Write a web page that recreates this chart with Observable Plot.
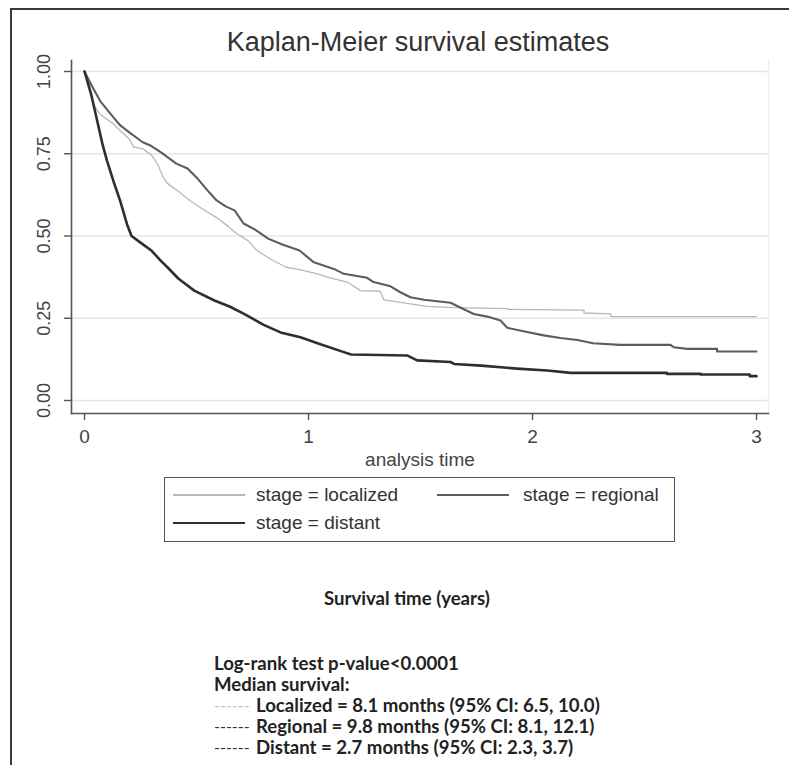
<!DOCTYPE html>
<html>
<head>
<meta charset="utf-8">
<script src="https://cdn.jsdelivr.net/npm/d3@7"></script>
<script src="https://cdn.jsdelivr.net/npm/@observablehq/plot@0.6"></script>
<style>
  html, body { margin: 0; padding: 0; background: #fff; }
  #page { position: relative; width: 789px; height: 765px; overflow: hidden; background: #fff; }
  .abs { position: absolute; white-space: nowrap; }
  .sans { font-family: "Liberation Sans", Arial, sans-serif; color: #333; }
  .note { font-family: Lato, "Open Sans", sans-serif; font-weight: bold; font-size: 18.6px; color: #222; line-height: 18px; }
  #chart { position: absolute; left: 0; top: 50px; }
</style>
</head>
<body>
<div id="page"></div>
<script>
// ---- data ----
const stages = ["localized", "regional", "distant"];

const localizedT = [0, 0.02, 0.04, 0.07, 0.10, 0.13, 0.16, 0.20, 0.22, 0.26, 0.30, 0.325, 0.35, 0.37, 0.42, 0.47, 0.52, 0.59, 0.64, 0.68, 0.73, 0.77, 0.83, 0.90, 0.96, 1.04, 1.083, 1.173, 1.232, 1.32, 1.336, 1.455, 1.53, 1.65, 1.887, 1.887, 2.23, 2.23, 2.35, 2.35, 3.0];
const localizedS = [1.0, 0.96, 0.90, 0.87, 0.855, 0.84, 0.82, 0.795, 0.77, 0.765, 0.745, 0.72, 0.68, 0.66, 0.635, 0.608, 0.585, 0.556, 0.53, 0.507, 0.486, 0.456, 0.43, 0.405, 0.398, 0.385, 0.375, 0.36, 0.334, 0.332, 0.306, 0.294, 0.286, 0.282, 0.279, 0.277, 0.275, 0.266, 0.263, 0.255, 0.255];

const regionalT = [0, 0.03, 0.07, 0.10, 0.13, 0.16, 0.20, 0.26, 0.295, 0.34, 0.41, 0.46, 0.50, 0.55, 0.59, 0.63, 0.67, 0.71, 0.76, 0.82, 0.88, 0.96, 1.024, 1.113, 1.158, 1.262, 1.29, 1.366, 1.41, 1.455, 1.515, 1.634, 1.68, 1.738, 1.798, 1.857, 1.887, 1.976, 2.05, 2.125, 2.2, 2.27, 2.39, 2.616, 2.63, 2.69, 2.824, 2.824, 3.0];
const regionalS = [1.0, 0.96, 0.91, 0.885, 0.86, 0.836, 0.815, 0.785, 0.775, 0.755, 0.72, 0.705, 0.678, 0.638, 0.608, 0.59, 0.578, 0.538, 0.52, 0.492, 0.475, 0.456, 0.42, 0.40, 0.385, 0.373, 0.36, 0.347, 0.329, 0.314, 0.306, 0.297, 0.282, 0.263, 0.255, 0.243, 0.221, 0.208, 0.198, 0.19, 0.184, 0.174, 0.169, 0.169, 0.162, 0.157, 0.157, 0.149, 0.149];

const distantT = [0, 0.03, 0.05, 0.08, 0.10, 0.13, 0.16, 0.19, 0.21, 0.25, 0.30, 0.34, 0.37, 0.42, 0.49, 0.58, 0.65, 0.71, 0.80, 0.875, 0.964, 1.05, 1.158, 1.19, 1.44, 1.485, 1.634, 1.65, 1.77, 1.93, 2.066, 2.17, 2.60, 2.60, 2.75, 2.75, 2.97, 2.97, 3.0];
const distantS = [1.0, 0.93, 0.87, 0.78, 0.73, 0.665, 0.605, 0.535, 0.50, 0.48, 0.455, 0.425, 0.405, 0.37, 0.334, 0.304, 0.285, 0.264, 0.23, 0.207, 0.192, 0.172, 0.147, 0.140, 0.137, 0.122, 0.117, 0.111, 0.106, 0.097, 0.091, 0.084, 0.084, 0.081, 0.081, 0.079, 0.079, 0.074, 0.074];

const yTicks = [0, 0.25, 0.5, 0.75, 1];
const xTicks = [0, 1, 2, 3];
const titleText = "Kaplan-Meier survival estimates";
const xLabel = "analysis time";
const legendLabels = ["stage = localized", "stage = regional", "stage = distant"];
const noteTitle = "Survival time (years)";
const logRank = "Log-rank test p-value<0.0001";
const medianHead = "Median survival:";
const medianLines = [
  "Localized = 8.1 months (95% CI: 6.5, 10.0)",
  "Regional = 9.8 months (95% CI: 8.1, 12.1)",
  "Distant = 2.7 months (95% CI: 2.3, 3.7)"
];

// ---- styles ----
const strokes = { localized: "#b8b8b8", regional: "#5c5c5c", distant: "#2e2e2e" };
const widths = { localized: 1.3, regional: 2.1, distant: 2.6 };
const dashColors = ["#c4c4c4", "#333", "#333"];

const toRows = (T, S, stage) => T.map((t, i) => ({ t, s: S[i], stage }));
const series = {
  localized: toRows(localizedT, localizedS, "localized"),
  regional: toRows(regionalT, regionalS, "regional"),
  distant: toRows(distantT, distantS, "distant")
};

const page = document.getElementById("page");

// frame lines of the figure
const fl = document.createElement("div");
fl.className = "abs";
Object.assign(fl.style, { left: "10px", top: "8px", width: "2px", height: "757px", background: "#3a3a3a" });
page.appendChild(fl);
const ft = document.createElement("div");
ft.className = "abs";
Object.assign(ft.style, { left: "10px", top: "8px", width: "779px", height: "2px", background: "#3a3a3a" });
page.appendChild(ft);

// title
const title = document.createElement("div");
title.className = "abs sans";
title.textContent = titleText;
Object.assign(title.style, { left: "0px", width: "836px", textAlign: "center", top: "27px", fontSize: "27px", lineHeight: "31px", color: "#333" });
page.appendChild(title);

// chart
const W = 789, H = 420;
const chart = Plot.plot({
  width: W,
  height: H,
  marginLeft: 71,
  marginRight: 21,
  marginTop: 10,
  marginBottom: 57,
  insetLeft: 13,
  insetRight: 12,
  insetTop: 11,
  insetBottom: 13,
  style: { background: "transparent", fontFamily: "Liberation Sans, Arial, sans-serif", color: "#444" },
  x: { domain: [0, 3] },
  y: { domain: [0, 1] },
  marks: [
    Plot.ruleY(yTicks, { stroke: "#e6e6e6", strokeWidth: 1.5 }),
    Plot.frame({ anchor: "right", stroke: "#eeeeee", strokeWidth: 1.5 }),
    Plot.line(series.localized, { x: "t", y: "s", stroke: strokes.localized, strokeWidth: widths.localized }),
    Plot.line(series.regional, { x: "t", y: "s", stroke: strokes.regional, strokeWidth: widths.regional }),
    Plot.line(series.distant, { x: "t", y: "s", stroke: strokes.distant, strokeWidth: widths.distant }),
    Plot.frame({ anchor: "left", stroke: "#555", strokeWidth: 1.6 }),
    Plot.frame({ anchor: "bottom", stroke: "#555", strokeWidth: 1.6 }),
    Plot.axisY({ ticks: yTicks, tickSize: 7, tickFormat: () => "", label: null, stroke: "#555", strokeWidth: 1.4 }),
    Plot.text(yTicks, { y: d => d, text: d => d3.format(".2f")(d), frameAnchor: "left", dx: -27, rotate: -90, textAnchor: "middle", lineAnchor: "middle", fontSize: 18, fill: "#444" }),
    Plot.axisX({ ticks: xTicks, tickSize: 7, tickPadding: 9, tickFormat: d3.format("d"), label: null, fontSize: 19, stroke: "#555", strokeWidth: 1.4, fill: "#444" }),
    Plot.text([xLabel], { text: d => d, frameAnchor: "bottom", dy: 46, lineAnchor: "middle", fontSize: 19, fill: "#444" })
  ]
});
chart.id = "chart";
page.appendChild(chart);

// legend
const legend = document.createElement("div");
legend.className = "abs";
Object.assign(legend.style, { left: "164px", top: "477px", width: "509px", height: "63px", border: "1.5px solid #555", background: "#fff" });
page.appendChild(legend);

const legendItems = [
  { stage: "localized", sx: 173, sw: 72, ty: 495, tx: 256 },
  { stage: "regional", sx: 437, sw: 72, ty: 495, tx: 523 },
  { stage: "distant", sx: 173, sw: 72, ty: 523, tx: 256 }
];
legendItems.forEach((it, i) => {
  const sample = document.createElement("div");
  sample.className = "abs";
  const h = widths[it.stage];
  Object.assign(sample.style, { left: it.sx + "px", top: (it.ty - h / 2) + "px", width: it.sw + "px", height: h + "px", background: strokes[it.stage] });
  page.appendChild(sample);
  const txt = document.createElement("div");
  txt.className = "abs sans";
  txt.textContent = legendLabels[i];
  Object.assign(txt.style, { left: it.tx + "px", top: (it.ty - 11) + "px", fontSize: "19px", lineHeight: "22px", color: "#333" });
  page.appendChild(txt);
});

// notes below
function note(text, left, centerY, color) {
  const d = document.createElement("div");
  d.className = "abs note";
  d.textContent = text;
  Object.assign(d.style, { left: left + "px", top: (centerY - 9) + "px" });
  if (color) d.style.color = color;
  page.appendChild(d);
  return d;
}
note(noteTitle, 324, 598);
note(logRank, 214, 663);
note(medianHead, 214, 684);
const medY = [705, 726, 747];
medianLines.forEach((line, i) => {
  const dash = note("------", 214, medY[i], dashColors[i]);
  dash.style.fontWeight = "normal";
  dash.style.fontSize = "16px";
  note(line, 256, medY[i]);
});
</script>
</body>
</html>
